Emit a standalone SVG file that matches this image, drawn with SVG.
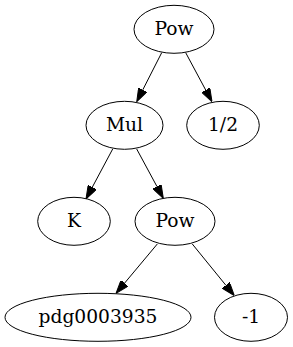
<svg xmlns="http://www.w3.org/2000/svg" width="293" height="347" viewBox="0 0 293 347">
<style>
.n ellipse{fill:none;stroke:#000;stroke-width:1}
.n text{font-family:"DejaVu Serif",serif;font-size:18.67px;text-anchor:middle;fill:#000}
.e line{stroke:#000;stroke-width:1}
</style>
<defs>
<marker id="ah" viewBox="0 0 13.33 9.33" refX="0" refY="4.67" markerWidth="13.33" markerHeight="9.33" markerUnits="userSpaceOnUse" orient="auto">
<path d="M0,0 L13.33,4.67 L0,9.33 z" fill="#000" stroke="#000" stroke-width="1"/>
</marker>
</defs>
<rect width="293" height="347" fill="#fff"/>
<g id="edges" class="e">
<line x1="161.7" y1="52.7" x2="142.8" y2="89.8" marker-end="url(#ah)"/>
<line x1="185.7" y1="52.7" x2="205.7" y2="90" marker-end="url(#ah)"/>
<line x1="112.7" y1="149" x2="92.3" y2="187.2" marker-end="url(#ah)"/>
<line x1="136.7" y1="149" x2="157" y2="186.6" marker-end="url(#ah)"/>
<line x1="157.3" y1="244" x2="124.6" y2="283.1" marker-end="url(#ah)"/>
<line x1="192.3" y1="244" x2="225.9" y2="285.3" marker-end="url(#ah)"/>
</g>
<g id="pow1" class="n"><ellipse cx="174" cy="29.3" rx="40" ry="24"/><text x="174" y="34.5">Pow</text></g>
<g id="mul" class="n"><ellipse cx="124.5" cy="125.3" rx="38.5" ry="24"/><text x="124.5" y="130.5">Mul</text></g>
<g id="half" class="n"><ellipse cx="223" cy="125.3" rx="36.3" ry="24"/><text x="223" y="130.5">1/2</text></g>
<g id="k" class="n"><ellipse cx="74" cy="221.3" rx="36.3" ry="24"/><text x="74" y="226.5">K</text></g>
<g id="pow2" class="n"><ellipse cx="175" cy="221.3" rx="40" ry="24"/><text x="175" y="226.5">Pow</text></g>
<g id="pdg" class="n"><ellipse cx="98" cy="317.3" rx="93" ry="24"/><text x="98" y="322.5">pdg0003935</text></g>
<g id="m1" class="n"><ellipse cx="251" cy="317.3" rx="36.5" ry="24"/><text x="251" y="322.5">-1</text></g>
</svg>
